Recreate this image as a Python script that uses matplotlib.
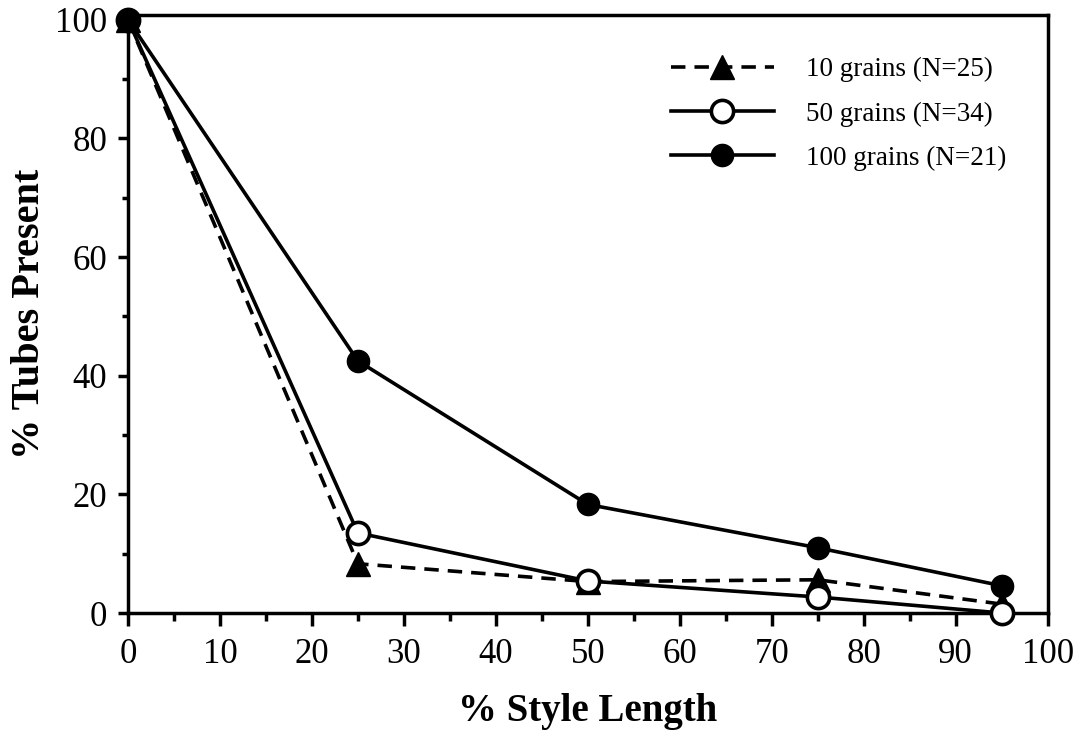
import matplotlib.pyplot as plt
from matplotlib.ticker import MultipleLocator

plt.rcParams['font.family'] = ['Liberation Serif', 'DejaVu Serif']

style_length = [0, 25, 50, 75, 95]
grains_10 = [100, 8.3, 5.3, 5.6, 1.5]
grains_50 = [100, 13.5, 5.4, 2.7, 0]
grains_100 = [100, 42.5, 18.3, 11.0, 4.6]

fig = plt.figure(figsize=(10.8, 7.33), dpi=100)
ax = fig.add_axes([0.1185, 0.1637, 0.8515, 0.8158])

ax.plot(style_length, grains_10, 'k--', lw=2.6, marker='^', ms=17,
        mfc='black', mec='black', dashes=(4, 2.5), label='10 grains (N=25)', clip_on=False, zorder=3)
ax.plot(style_length, grains_50, 'k-', lw=2.6, marker='o', ms=16,
        mfc='white', mec='black', mew=2.6, label='50 grains (N=34)', clip_on=False, zorder=4)
ax.plot(style_length, grains_100, 'k-', lw=2.6, marker='o', ms=16,
        mfc='black', mec='black', label='100 grains (N=21)', clip_on=False, zorder=5)

ax.set_xlim(0, 100)
ax.set_ylim(0, 100.8)
ax.xaxis.set_major_locator(MultipleLocator(10))
ax.xaxis.set_minor_locator(MultipleLocator(5))
ax.yaxis.set_major_locator(MultipleLocator(20))
ax.yaxis.set_minor_locator(MultipleLocator(10))
ax.tick_params(which='both', direction='out', width=2.5, labelsize=25)
ax.tick_params(axis='x', which='major', length=9, pad=9)
ax.tick_params(axis='x', which='minor', length=6)
ax.tick_params(axis='y', which='major', length=7, pad=8)
ax.tick_params(axis='y', which='minor', length=4)
for s in ax.spines.values():
    s.set_linewidth(2.5)

ax.set_xlabel('% Style Length', fontsize=28, fontweight='bold', labelpad=16)
ax.set_ylabel('% Tubes Present', fontsize=29, fontweight='bold', labelpad=5)

ax.legend(loc='upper right', bbox_to_anchor=(0.982, 0.97), frameon=False,
          fontsize=19.5, handlelength=3.8, handletextpad=1.2, labelspacing=0.7)

fig.savefig('out.png', dpi=100)
